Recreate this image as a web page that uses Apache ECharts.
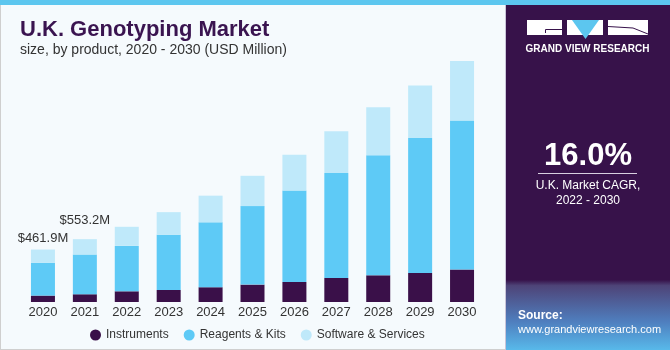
<!DOCTYPE html>
<html>
<head>
<meta charset="utf-8">
<script src="https://cdn.jsdelivr.net/npm/echarts@6/dist/echarts.min.js"></script>
<style>
  html, body { margin: 0; padding: 0; }
  #chart { width: 670px; height: 350px; }
</style>
</head>
<body>
<div id="chart"></div>
<script>
// data (USD Million)
const years = ['2020', '2021', '2022', '2023', '2024', '2025', '2026', '2027', '2028', '2029', '2030'];
const instruments = [56.4, 68, 94, 106, 130, 153, 176, 212, 235, 256, 286];
const reagents = [287.5, 350, 400, 485, 571, 691, 806, 923, 1056, 1188, 1311];
const software = [118, 135.2, 168, 200, 235, 267, 314, 368, 423, 461, 524];
const topLabels = ['$461.9M', '$553.2M'];
const labelGaps = [5, 12];

const font = 'Liberation Sans, Arial, sans-serif';

let chart = echarts.init(document.getElementById('chart'));

// software segment carries the total label for first two years
let softwareData = software.map(function (v, i) {
  if (i < topLabels.length) {
    return {
      value: v,
      label: { show: true, formatter: topLabels[i], distance: labelGaps[i] }
    };
  }
  return v;
});

let option = {
  backgroundColor: '#f5fafd',
  animation: false,
  title: {
    text: 'U.K. Genotyping Market',
    subtext: 'size, by product, 2020 - 2030 (USD Million)',
    left: 15,
    top: 14,
    itemGap: 2,
    textStyle: { fontFamily: font, fontSize: 22, fontWeight: 'bold', color: '#3a1450' },
    subtextStyle: { fontFamily: font, fontSize: 14, color: '#333' }
  },
  legend: {
    left: 85,
    top: 324,
    icon: 'circle',
    itemWidth: 11,
    itemHeight: 11,
    itemGap: 15,
    textStyle: { fontFamily: font, fontSize: 12, color: '#333' },
    data: ['Instruments', 'Reagents & Kits', 'Software & Services']
  },
  grid: { left: 22, width: 461, top: 18, bottom: 48 },
  xAxis: {
    type: 'category',
    data: years,
    axisLine: { show: false },
    axisTick: { show: false },
    axisLabel: { fontFamily: font, fontSize: 13, color: '#333', margin: 4 }
  },
  yAxis: {
    type: 'value',
    min: 0,
    max: 2500,
    show: false
  },
  series: [
    {
      name: 'Instruments',
      type: 'bar',
      stack: 'total',
      barWidth: 24,
      data: instruments,
      itemStyle: { color: '#3a1049' }
    },
    {
      name: 'Reagents & Kits',
      type: 'bar',
      stack: 'total',
      data: reagents,
      itemStyle: { color: '#5ecaf6' }
    },
    {
      name: 'Software & Services',
      type: 'bar',
      stack: 'total',
      data: softwareData,
      itemStyle: { color: '#bfe9fa' },
      label: {
        show: false,
        position: 'top',
        fontFamily: font,
        fontSize: 13,
        color: '#333'
      }
    }
  ],
  graphic: [
    // top stripe
    { type: 'rect', z: 10, shape: { x: 0, y: 0, width: 670, height: 5 }, style: { fill: '#5cc6ef' } },
    // right panel
    { type: 'rect', z: 10, shape: { x: 505, y: 5, width: 165, height: 345 }, style: { fill: '#37124a' } },
    {
      type: 'rect', z: 10,
      shape: { x: 505, y: 280, width: 165, height: 70 },
      style: {
        fill: new echarts.graphic.LinearGradient(0, 0, 0, 1, [
          { offset: 0, color: '#37124a' },
          { offset: 0.08, color: '#4e4478' },
          { offset: 0.6, color: '#4f7fbf' },
          { offset: 1, color: '#58b9ea' }
        ])
      }
    },
    { type: 'line', z: 11, shape: { x1: 505.5, y1: 5, x2: 505.5, y2: 350 }, style: { stroke: '#c9c4d8', lineWidth: 1 } },
    // frame
    { type: 'line', z: 11, shape: { x1: 0.5, y1: 5, x2: 0.5, y2: 350 }, style: { stroke: '#cfcfcf', lineWidth: 1 } },
    { type: 'line', z: 11, shape: { x1: 0, y1: 349.5, x2: 505, y2: 349.5 }, style: { stroke: '#cfcfcf', lineWidth: 1 } },
    // logo
    { type: 'rect', z: 12, shape: { x: 527, y: 20, width: 35, height: 15 }, style: { fill: '#fff' } },
    { type: 'polyline', z: 13, shape: { points: [[562, 29.5], [545.5, 29.5], [545.5, 33]] }, style: { stroke: '#37124a', lineWidth: 1, fill: null } },
    { type: 'rect', z: 12, shape: { x: 567, y: 20, width: 36, height: 15 }, style: { fill: '#fff' } },
    { type: 'polygon', z: 13, shape: { points: [[572, 20], [599, 20], [585.5, 39]] }, style: { fill: '#5cc6ef' } },
    { type: 'rect', z: 12, shape: { x: 608, y: 20, width: 40, height: 15 }, style: { fill: '#fff' } },
    { type: 'polyline', z: 13, shape: { points: [[608, 26.5], [633, 28], [648, 34]] }, style: { stroke: '#37124a', lineWidth: 1, fill: null } },
    {
      type: 'text', z: 12, x: 587.5, y: 49,
      style: { text: 'GRAND VIEW RESEARCH', fill: '#fff', font: 'bold 10px ' + font, textAlign: 'center', textVerticalAlign: 'middle' }
    },
    // CAGR
    {
      type: 'text', z: 12, x: 588, y: 156,
      style: { text: '16.0%', fill: '#fff', font: 'bold 31px ' + font, textAlign: 'center', textVerticalAlign: 'middle' }
    },
    { type: 'line', z: 12, shape: { x1: 538, y1: 173.5, x2: 637, y2: 173.5 }, style: { stroke: '#d8d0e0', lineWidth: 1 } },
    {
      type: 'text', z: 12, x: 588, y: 186,
      style: { text: 'U.K. Market CAGR,', fill: '#fff', font: '12px ' + font, textAlign: 'center', textVerticalAlign: 'middle' }
    },
    {
      type: 'text', z: 12, x: 588, y: 201,
      style: { text: '2022 - 2030', fill: '#fff', font: '12px ' + font, textAlign: 'center', textVerticalAlign: 'middle' }
    },
    // source
    {
      type: 'text', z: 12, x: 518, y: 316,
      style: { text: 'Source:', fill: '#fff', font: 'bold 12px ' + font, textVerticalAlign: 'middle' }
    },
    {
      type: 'text', z: 12, x: 518, y: 330,
      style: { text: 'www.grandviewresearch.com', fill: '#fff', font: '11px ' + font, textVerticalAlign: 'middle' }
    }
  ]
};

chart.setOption(option);
</script>
</body>
</html>
